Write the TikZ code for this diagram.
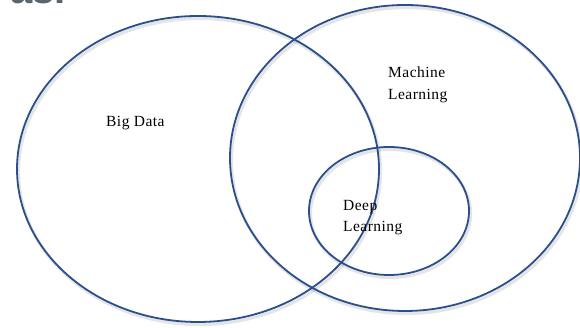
\documentclass[tikz,border=0pt]{standalone}
\usepackage{fontspec}
\setmainfont{Liberation Serif}[LetterSpace=3]
\newfontfamily\titlesans{Liberation Sans}
\definecolor{ringblue}{HTML}{2B4F8C}
\definecolor{titlegray}{HTML}{5A6570}
\tikzset{
  ring/.style={draw=ringblue, line width=1.8pt},
  ringshadow/.style={draw=black, draw opacity=0.10, line width=3.2pt},
  lbl/.style={anchor=base west, inner sep=0pt, font=\fontsize{15.5}{19}\selectfont},
}
\begin{document}
\begin{tikzpicture}[x=1pt,y=1pt]
\useasboundingbox (0,0) rectangle (580,328);
\fill[white] (0,0) rectangle (580,328);
% partially visible heading
\node[anchor=base east, inner sep=0pt, text=titlegray, font=\titlesans\bfseries\fontsize{40}{44}\selectfont] (head) at (66,324) {as.};
% shadows
\draw[ringshadow] (199.5,156.5) ellipse [x radius=181, y radius=153];
\draw[ringshadow] (406.5,167.5) ellipse [x radius=175, y radius=153];
\draw[ringshadow] (390.5,114.5) ellipse [x radius=80, y radius=64];
% rings
\draw[ring] (198,159) ellipse [x radius=181, y radius=153];
\draw[ring] (405,170) ellipse [x radius=175, y radius=153];
\draw[ring] (389,117) ellipse [x radius=80, y radius=64];
% labels
\node[lbl] (bd) at (106,201) {Big Data};
\node[lbl] (ml1) at (388,250.5) {Machine};
\node[lbl] (ml2) at (388,228.5) {Learning};
\node[lbl] (dl1) at (343,117) {Deep};
\node[lbl] (dl2) at (343,96.5) {Learning};
\end{tikzpicture}
\end{document}
